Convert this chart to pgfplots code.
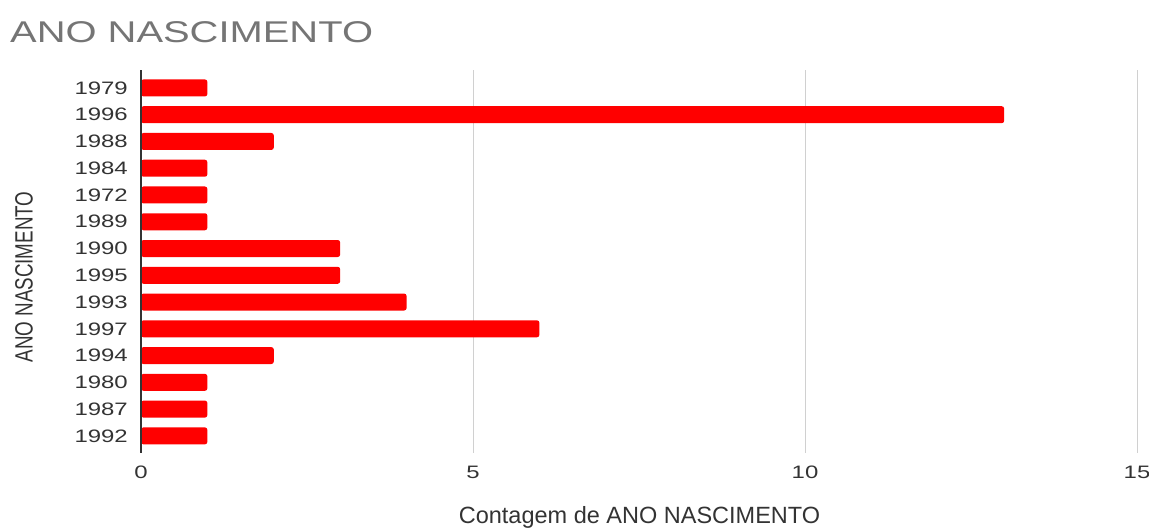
\documentclass[border=0pt]{standalone}
\usepackage{fontspec}
\setmainfont[FakeStretch=1.33]{Liberation Sans}
\newfontfamily\plainfont{Liberation Sans}
\usepackage{pgfplots}
\usepackage{pgfplotstable}
\pgfplotsset{compat=1.18}

\definecolor{barred}{HTML}{FF0000}
\definecolor{titlegray}{HTML}{757575}
\definecolor{gridgray}{HTML}{D0D0D0}
\definecolor{axisdark}{HTML}{333333}
\definecolor{labeldark}{HTML}{333333}

% birth years, bottom row first
\pgfplotstableread{
pos count year
0  1  1992
1  1  1987
2  1  1980
3  2  1994
4  6  1997
5  4  1993
6  3  1995
7  3  1990
8  1  1989
9  1  1972
10 1  1984
11 2  1988
12 13 1996
13 1  1979
}\births

\begin{document}
\begin{tikzpicture}[x=1pt,y=1pt]
\useasboundingbox (0,0) rectangle (1149,530);
\begin{axis}[
  at={(141pt,77pt)}, anchor=south west,
  scale only axis, width=996pt, height=383pt,
  xmin=0, xmax=15, ymin=-0.64, ymax=13.67,
  clip=false,
  axis line style={draw=none},
  major tick length=0pt,
  xtick={0,5,10,15},
  ytick={0,...,13},
  yticklabels from table={\births}{year},
  xmajorgrids,
  major grid style={gridgray, line width=1pt},
  /pgf/number format/assume math mode=true,
  xticklabel style={inner sep=0pt, anchor=north, yshift=-12.5pt,
    text=labeldark, font=\fontsize{18}{20}\selectfont},
  yticklabel style={inner sep=0pt, anchor=east, xshift=-13pt,
    text=labeldark, font=\fontsize{18}{20}\selectfont},
]
\addplot[xbar, bar width=17pt, fill=barred, draw=none, rounded corners=2.5pt]
  table[x=count, y=pos]{\births};
\draw[axisdark, line width=1.6pt] (axis cs:0,-0.64) -- (axis cs:0,13.67);
\end{axis}

\node[anchor=base west, inner sep=0pt, text=titlegray,
  font=\fontsize{30}{32}\selectfont] at (10,487) {ANO NASCIMENTO};

\node[anchor=base, inner sep=0pt, text=labeldark,
  font=\plainfont\fontsize{23.5}{26}\selectfont] at (639.5,6)
  {Contagem de ANO NASCIMENTO};

\begin{scope}[xscale=1.33]
\node[rotate=90, transform shape, inner sep=0pt, text=labeldark,
  font=\plainfont\fontsize{18.8}{20}\selectfont] at (18.05,253)
  {ANO NASCIMENTO};
\end{scope}
\end{tikzpicture}
\end{document}
